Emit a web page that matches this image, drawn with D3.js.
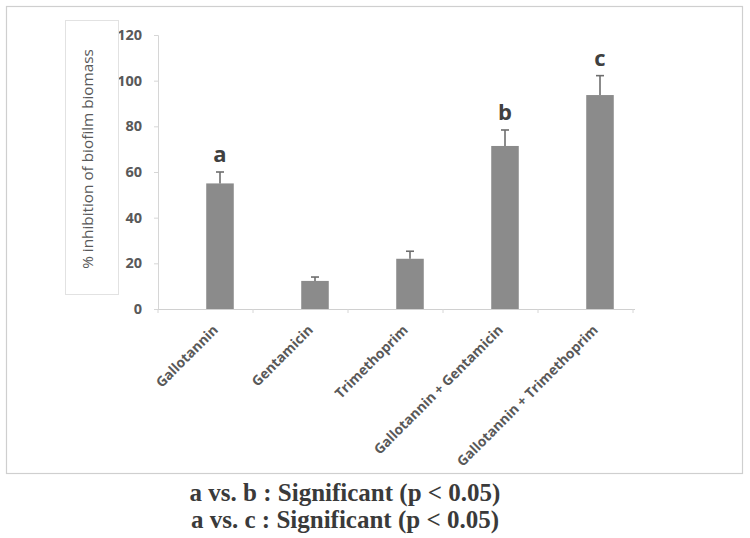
<!DOCTYPE html>
<html><head><meta charset="utf-8">
<script src="https://cdn.jsdelivr.net/npm/d3@7"></script>
<style>body{margin:0;background:#fff}</style>
</head><body>
<svg id="c" width="750" height="538"></svg>
<script>
const categories = ["Gallotannin","Gentamicin","Trimethoprim","Gallotannin + Gentamicin","Gallotannin + Trimethoprim"];
const values = [55, 12.3, 22, 71.4, 93.7];
const errors = [5, 1.7, 3.3, 7, 8.5];
const letters = ["a","","","b","c"];
const yTicks = [0,20,40,60,80,100,120];
const notes = ["a vs. b : Significant (p < 0.05)","a vs. c : Significant (p < 0.05)"];

const svg = d3.select("#c");
// outer frame
svg.append("rect").attr("x",6.5).attr("y",6.5).attr("width",736).attr("height",467)
  .attr("fill","none").attr("stroke","#cfcfcf").attr("stroke-width",1.2);

const m = {l:158, r:635, t:35, b:309};
const x = d3.scaleBand().domain(categories).range([172.5,647.5]).paddingInner(0.71).paddingOuter(0.355);
const y = d3.scaleLinear().domain([0,120]).range([m.b,m.t]);

// y axis
const ya = svg.append("g").attr("transform",`translate(${m.l},0)`)
  .call(d3.axisLeft(y).tickValues(yTicks).tickSize(4).tickPadding(12));
ya.select(".domain").attr("stroke","#d6d6d6");
ya.selectAll(".tick line").attr("stroke","#d6d6d6");
ya.selectAll(".tick text").attr("fill","#595959").style("font-family","'Open Sans',sans-serif")
  .style("font-weight","bold").style("font-size","14.5px");

// x axis
const xa = svg.append("g").attr("transform",`translate(0,${m.b})`)
  .call(d3.axisBottom(x).tickSize(0).tickPadding(0));
xa.select(".domain").remove();
svg.append("line").attr("x1",m.l).attr("x2",m.r).attr("y1",m.b+0.5).attr("y2",m.b+0.5).attr("stroke","#d0d0d0");
xa.selectAll(".tick text")
  .attr("text-anchor","end")
  .attr("transform","translate(-8,15) rotate(-45)")
  .attr("fill","#595959").style("font-family","'Open Sans',sans-serif")
  .style("font-weight","bold").style("font-size","13.8px");
// boundary ticks
const bounds = d3.range(categories.length+1).map(i => m.l + i*95);
svg.append("g").selectAll("line").data(bounds).join("line")
  .attr("x1",d=>d).attr("x2",d=>d).attr("y1",m.b).attr("y2",m.b+4)
  .attr("stroke","#d6d6d6");

// bars
const data = categories.map((c,i)=>({c, v:values[i], e:errors[i], l:letters[i]}));
svg.append("g").selectAll("rect").data(data).join("rect")
  .attr("x",d=>x(d.c)).attr("width",x.bandwidth())
  .attr("y",d=>y(d.v)).attr("height",d=>y(0)-y(d.v))
  .attr("fill","#8b8b8b");

// error bars
const eb = svg.append("g").attr("stroke","#6e6e6e").attr("stroke-width",1.6);
eb.selectAll(".v").data(data).join("line")
  .attr("x1",d=>x(d.c)+x.bandwidth()/2).attr("x2",d=>x(d.c)+x.bandwidth()/2)
  .attr("y1",d=>y(d.v)).attr("y2",d=>y(d.v+d.e));
eb.selectAll(".h").data(data).join("line")
  .attr("x1",d=>x(d.c)+x.bandwidth()/2-4).attr("x2",d=>x(d.c)+x.bandwidth()/2+4)
  .attr("y1",d=>y(d.v+d.e)).attr("y2",d=>y(d.v+d.e));

// letters
svg.append("g").selectAll("text").data(data.filter(d=>d.l)).join("text")
  .attr("x",d=>x(d.c)+x.bandwidth()/2).attr("y",d=>y(d.v+d.e)-10)
  .attr("text-anchor","middle").attr("fill","#404040")
  .style("font-family","'Open Sans',sans-serif").style("font-weight","bold").style("font-size","22px")
  .text(d=>d.l);

// y label box
svg.append("rect").attr("x",65.5).attr("y",20.5).attr("width",53).attr("height",274)
  .attr("fill","none").attr("stroke","#e2e2e2");
svg.append("text").attr("transform","translate(93,159) rotate(-90)")
  .attr("text-anchor","middle").attr("fill","#595959")
  .style("font-family","'Open Sans',sans-serif").style("font-size","15.3px")
  .text("% inhibition of biofilm biomass");

// notes
svg.append("g").selectAll("text").data(notes).join("text")
  .attr("x",345).attr("y",(d,i)=>501+i*27).attr("text-anchor","middle")
  .attr("fill","#3a3a3a")
  .style("font-family","'Liberation Serif','Times New Roman',serif").style("font-weight","bold").style("font-size","25px")
  .text(d=>d);
</script>
</body></html>
